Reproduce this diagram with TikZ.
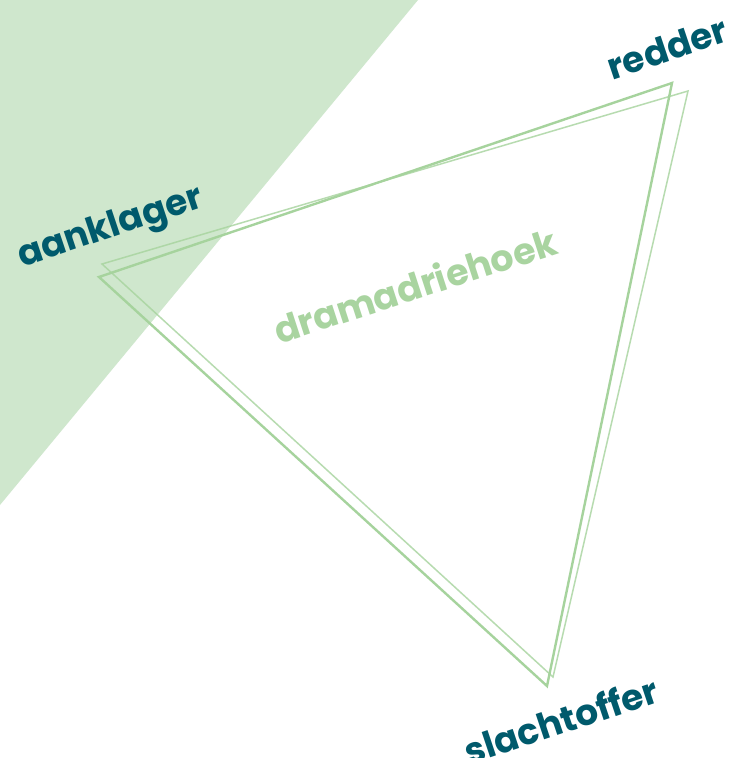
\documentclass[tikz,border=0pt]{standalone}
\usepackage{fontspec}
\setmainfont{Poppins}[UprightFont=* Bold]
\definecolor{bggreen}{HTML}{CFE7CD}
\definecolor{linegreen}{HTML}{A6D39D}
\definecolor{teal}{HTML}{005A6C}
\definecolor{titlegreen}{HTML}{A9D4A0}
\tikzset{
  rolelabel/.style={text=teal, font=\fontsize{36}{36}\selectfont, rotate=18.5, inner sep=0pt, anchor=center},
  titlelabel/.style={text=titlegreen, font=\fontsize{36.5}{36}\selectfont, rotate=18, inner sep=0pt, anchor=center},
  triA/.style={draw=linegreen, line width=2.4pt, line join=miter},
  triB/.style={draw=linegreen, line width=1.5pt, line join=miter, draw opacity=0.8},
}
\begin{document}
\begin{tikzpicture}[x=1pt,y=-1pt]
\useasboundingbox (0,0) rectangle (737,758);
\fill[white] (0,0) rectangle (737,758);
\fill[bggreen] (0,0) -- (418,0) -- (0,505) -- cycle;
% triangles
\coordinate (a1) at (672,83);
\coordinate (b1) at (99,277);
\coordinate (c1) at (547,686);
\coordinate (a2) at (688,91);
\coordinate (b2) at (102,264);
\coordinate (c2) at (553,677);
\draw[triA] (a1) -- (b1) -- (c1) -- cycle;
\draw[triB] (a2) -- (b2) -- (c2) -- cycle;
% labels
\node[rolelabel] (red) at (667,48) {redder};
\node[rolelabel] (aan) at (111,229) {aanklager};
\node[rolelabel] (sla) at (561,720) {slachtoffer};
\node[titlelabel] (dra) at (415,285) {dramadriehoek};
\end{tikzpicture}
\end{document}
